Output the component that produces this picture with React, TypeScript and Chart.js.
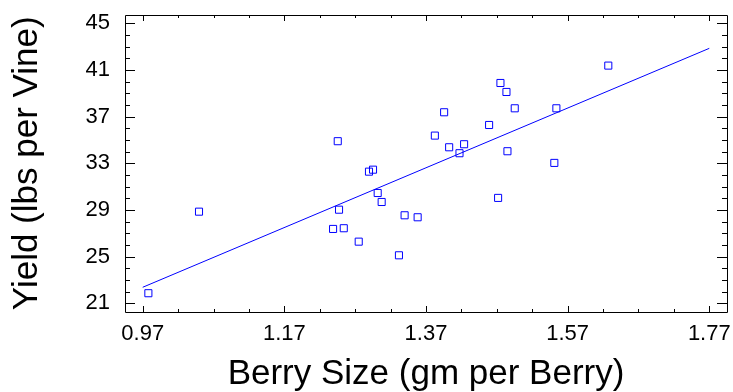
import React, { useEffect, useRef } from 'react';
import { Chart, registerables } from 'chart.js';

Chart.register(...registerables);

// Berry size (gm per berry) and yield (lbs per vine)
const berrySize = [
  0.978, 1.0495, 1.2454, 1.2895, 1.2952, 1.3018, 1.3074, 1.2472, 1.2388, 1.2539,
  1.275, 1.3398, 1.3582, 1.3318, 1.6274, 1.4751, 1.4836, 1.3956, 1.4953, 1.5541,
  1.4591, 1.3825, 1.4027, 1.4238, 1.4173, 1.485, 1.5512, 1.4718,
];
const yieldLbs = [
  21.86, 28.85, 34.89, 32.28, 32.45, 30.45, 29.68, 29.02, 27.37, 27.43,
  26.28, 28.54, 28.37, 25.11, 41.37, 39.88, 39.11, 37.37, 37.71, 37.71,
  36.28, 35.37, 34.37, 34.63, 33.86, 34.03, 33.03, 30.03,
];

// Fitted line end points
const fitX = [0.97, 1.77];
const fitY = [22.37, 42.85];

// Axis ticks
const xTickValues = [0.97, 1.17, 1.37, 1.57, 1.77];
const yTickValues = [21, 25, 29, 33, 37, 41, 45];
const xMinorStep = 0.05;
const yMinorStep = 1;
const xRange = [0.945, 1.795];
const yRange = [20.25, 45.75];

const xTitle = 'Berry Size (gm per Berry)';
const yTitle = 'Yield (lbs per Vine)';

const FONT = "'Liberation Sans', Arial, Helvetica, sans-serif";
const BLUE = '#0000ff';

const inwardTicks = {
  id: 'inwardTicks',
  afterDraw(chart: any) {
    const { ctx, chartArea } = chart;
    const { left, right, top, bottom } = chartArea;
    const xs = chart.scales.x;
    const ys = chart.scales.y;
    const r = (v: number) => Math.round(v) + 0.5;
    ctx.save();
    ctx.strokeStyle = '#000';
    ctx.lineWidth = 1;
    ctx.beginPath();
    ctx.rect(r(left), r(top), Math.round(right) - Math.round(left), Math.round(bottom) - Math.round(top));
    // x ticks (bottom and top)
    const xMajorLen = 6, xMinorLen = 3;
    for (let v = xTickValues[0]; v <= xTickValues[xTickValues.length - 1] + 1e-9; v += xMinorStep) {
      const isMajor = xTickValues.some((t) => Math.abs(t - v) < 1e-6);
      const len = isMajor ? xMajorLen : xMinorLen;
      const px = r(xs.getPixelForValue(v));
      ctx.moveTo(px, Math.round(bottom));
      ctx.lineTo(px, Math.round(bottom) - len);
      ctx.moveTo(px, Math.round(top));
      ctx.lineTo(px, Math.round(top) + len);
    }
    // y ticks (left and right)
    const yMajorLen = 10, yMinorLen = 5;
    for (let v = yTickValues[0]; v <= yTickValues[yTickValues.length - 1] + 1e-9; v += yMinorStep) {
      const isMajor = yTickValues.some((t) => Math.abs(t - v) < 1e-6);
      const len = isMajor ? yMajorLen : yMinorLen;
      const py = r(ys.getPixelForValue(v));
      ctx.moveTo(Math.round(left), py);
      ctx.lineTo(Math.round(left) + len, py);
      ctx.moveTo(Math.round(right), py);
      ctx.lineTo(Math.round(right) - len, py);
    }
    ctx.stroke();
    ctx.restore();
  },
};

export default function App() {
  const ref = useRef<HTMLCanvasElement | null>(null);

  useEffect(() => {
    if (!ref.current) return;
    const chart = new Chart(ref.current, {
      type: 'scatter',
      data: {
        datasets: [
          {
            type: 'scatter',
            data: berrySize.map((x, i) => ({ x, y: yieldLbs[i] })),
            pointStyle: 'rect',
            pointRadius: 5,
            pointBorderWidth: 1,
            pointBorderColor: BLUE,
            pointBackgroundColor: 'rgba(0,0,0,0)',
            showLine: false,
          } as any,
          {
            type: 'line',
            data: fitX.map((x, i) => ({ x, y: fitY[i] })),
            borderColor: BLUE,
            borderWidth: 1,
            pointRadius: 0,
            fill: false,
            tension: 0,
          } as any,
        ],
      },
      options: {
        animation: false,
        responsive: false,
        events: [],
        layout: { padding: { top: 14.5, right: 6, left: 0, bottom: 0 } },
        plugins: { legend: { display: false }, tooltip: { enabled: false } },
        scales: {
          x: {
            type: 'linear',
            min: xRange[0],
            max: xRange[1],
            grid: { display: false, drawTicks: false },
            border: { display: false },
            ticks: {
              color: '#000',
              font: { family: FONT, size: 22 },
              padding: 9,
              maxRotation: 0,
              autoSkip: false,
              callback: (v: any) => Number(v).toFixed(2),
            },
            title: {
              display: true,
              text: xTitle,
              color: '#000',
              font: { family: FONT, size: 35, lineHeight: 1 },
              padding: { top: 0, bottom: 0 },
            },
            afterBuildTicks: (s: any) => {
              s.ticks = xTickValues.map((v) => ({ value: v }));
            },
            afterFit: (s: any) => {
              s.height = 80;
              s.paddingLeft = 0;
              s.paddingRight = 0;
            },
          },
          y: {
            type: 'linear',
            min: yRange[0],
            max: yRange[1],
            grid: { display: false, drawTicks: false },
            border: { display: false },
            ticks: {
              color: '#000',
              font: { family: FONT, size: 22 },
              padding: 15,
              autoSkip: false,
              callback: (v: any) => String(v),
            },
            title: {
              display: true,
              text: yTitle,
              color: '#000',
              font: { family: FONT, size: 35, lineHeight: 1 },
              padding: { top: 10, bottom: 0 },
            },
            afterBuildTicks: (s: any) => {
              s.ticks = yTickValues.map((v) => ({ value: v }));
            },
            afterFit: (s: any) => {
              s.width = 125;
              s.paddingTop = 0;
              s.paddingBottom = 0;
            },
          },
        },
      },
      plugins: [inwardTicks],
    });
    return () => chart.destroy();
  }, []);

  return (
    <div style={{ position: 'fixed', left: 0, top: 0, width: 733, height: 392, background: '#fff' }}>
      <canvas ref={ref} width={733} height={392} style={{ display: 'block' }} />
    </div>
  );
}
